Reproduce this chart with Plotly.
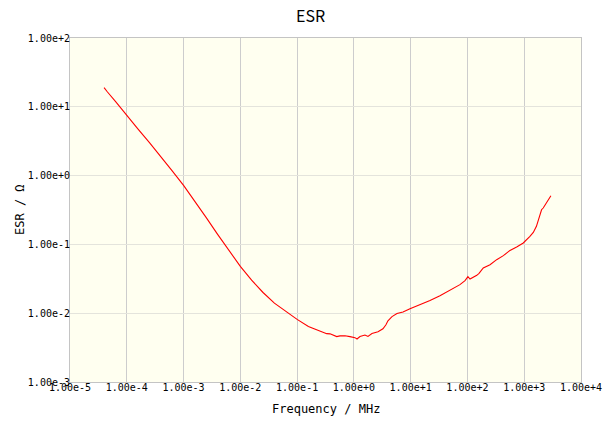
import plotly.graph_objects as go

# Frequency (MHz) and ESR (ohm)
freq_mhz = [3.98e-5, 4.17e-5, 4.37e-5, 4.57e-5, 6.31e-5, 1.0e-4, 1.58e-4, 2.51e-4, 3.98e-4,
            6.31e-4, 1.0e-3, 1.58e-3, 2.51e-3, 3.98e-3, 6.31e-3, 1.0e-2, 1.58e-2, 2.51e-2,
            3.98e-2, 6.31e-2, 0.100, 0.158, 0.253, 0.332, 0.380, 0.429, 0.499, 0.569, 0.697,
            0.853, 1.045, 1.135, 1.28, 1.567, 1.77, 2.08, 2.66, 3.25, 3.67, 3.98, 4.69, 5.74,
            7.33, 9.73, 14.6, 21.9, 32.8, 49.2, 73.8, 90.6, 102, 111, 125, 146, 160, 190,
            250, 327, 429, 561, 736, 962, 1260, 1445, 1640, 1890, 2020, 2160, 2480, 2950]
esr_ohm = [19.0, 18.0, 17.6, 16.4, 12.0, 7.41, 4.73, 3.01, 1.90,
           1.17, 0.72, 0.427, 0.245, 0.140, 0.0813, 0.0479, 0.0302, 0.0200,
           0.0140, 0.0106, 0.00813, 0.00640, 0.00543, 0.00504, 0.00501, 0.00479, 0.00457,
           0.00468, 0.00471, 0.00457, 0.00441, 0.00422, 0.00457, 0.00482, 0.00460, 0.00508,
           0.00537, 0.00594, 0.00679, 0.00776, 0.00891, 0.00989, 0.0104, 0.0116, 0.0133,
           0.0153, 0.0180, 0.0215, 0.0260, 0.0297, 0.0339, 0.0314, 0.0328, 0.0355, 0.0380,
           0.0454, 0.0507, 0.060, 0.0686, 0.0818, 0.0917, 0.105, 0.131, 0.149, 0.183, 0.255,
           0.319, 0.338, 0.400, 0.510]

x_tickvals = [1e-5, 1e-4, 1e-3, 1e-2, 1e-1, 1e0, 1e1, 1e2, 1e3, 1e4]
x_ticktext = ["1.00e-5", "1.00e-4", "1.00e-3", "1.00e-2", "1.00e-1",
              "1.00e+0", "1.00e+1", "1.00e+2", "1.00e+3", "1.00e+4"]
y_tickvals = [1e-3, 1e-2, 1e-1, 1e0, 1e1, 1e2]
y_ticktext = ["1.00e-3", "1.00e-2", "1.00e-1", "1.00e+0", "1.00e+1", "1.00e+2"]

title_text = "ESR"
x_title = "Frequency / MHz"
y_title = "ESR / Ω"

mono = "DejaVu Sans Mono"

fig = go.Figure()
fig.add_trace(go.Scatter(x=freq_mhz, y=esr_ohm, mode="lines",
                         line=dict(color="#FF0000", width=1.1), showlegend=False))

W, H = 612, 421
L, R, T, B = 70, 31, 38, 39
pw, ph = W - L - R, H - T - B

fig.update_layout(
    width=W, height=H,
    margin=dict(l=L, r=R, t=T, b=B, pad=0, autoexpand=False),
    paper_bgcolor="white",
    plot_bgcolor="#FFFFF0",
    font=dict(family=mono, size=10, color="black"),
    xaxis=dict(type="log", range=[-5, 4], tickvals=x_tickvals, ticktext=x_ticktext,
               showgrid=True, gridcolor="#CDCDCD", gridwidth=1, automargin=False,
               showline=True, linecolor="#C4C4C4", linewidth=1, mirror=True,
               ticks="", zeroline=False, ticklabelstandoff=-4,
               tickfont=dict(family=mono, size=10, color="black")),
    yaxis=dict(type="log", range=[-3, 2], tickvals=y_tickvals, ticktext=y_ticktext,
               showgrid=True, gridcolor="#E4E4DC", gridwidth=1, automargin=False,
               showline=True, linecolor="#C4C4C4", linewidth=1, mirror=True,
               ticks="", zeroline=False, ticklabelstandoff=-3,
               tickfont=dict(family=mono, size=10, color="black")),
    annotations=[
        dict(text=title_text, xref="paper", yref="paper",
             x=(310 - L) / pw, y=1 + (T - 15) / ph, xanchor="center", yanchor="middle",
             showarrow=False, font=dict(family="Noto Sans CJK JP", size=16, color="black")),
        dict(text=x_title, xref="paper", yref="paper",
             x=0.5, y=-(409 - (H - B)) / ph, xanchor="center", yanchor="middle",
             showarrow=False, font=dict(family=mono, size=12, color="black")),
        dict(text=y_title, xref="paper", yref="paper", textangle=-90,
             x=(20 - L) / pw, y=0.5, xanchor="center", yanchor="middle",
             showarrow=False, font=dict(family=mono, size=12, color="black")),
    ],
)

fig.write_html("out.html",
               config={"displayModeBar": False},
               post_script="document.body.style.margin='0';document.body.style.overflow='hidden';")
